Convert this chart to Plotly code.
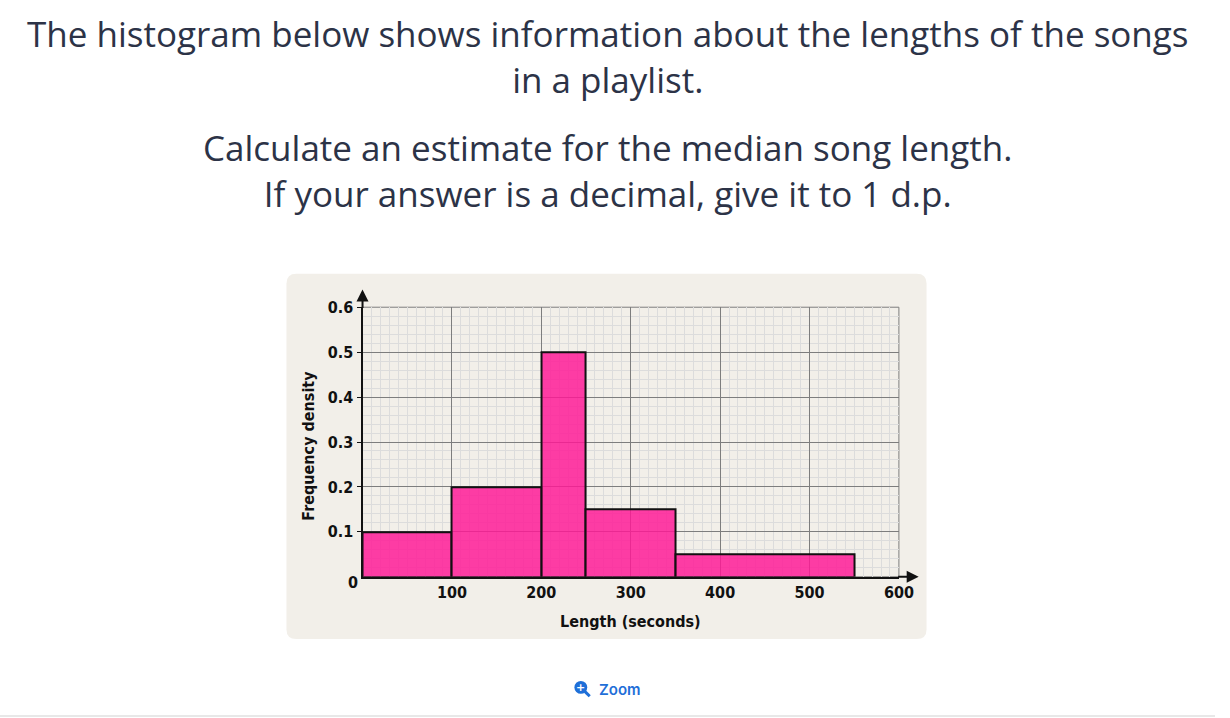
import plotly.graph_objects as go

# ---- data ----
bin_edges = [0, 100, 200, 250, 350, 550]
freq_density = [0.1, 0.2, 0.5, 0.15, 0.05]
x_tick_vals = [100, 200, 300, 400, 500, 600]
y_tick_vals = [0.1, 0.2, 0.3, 0.4, 0.5, 0.6]
title_lines = ["The histogram below shows information about the lengths of the songs",
               "in a playlist."]
question_lines = ["Calculate an estimate for the median song length.",
                  "If your answer is a decimal, give it to 1 d.p."]

W, H = 1230, 718
def px(x): return x / W
def py(y): return 1 - y / H

centers = [(a + b) / 2 for a, b in zip(bin_edges[:-1], bin_edges[1:])]
widths = [b - a for a, b in zip(bin_edges[:-1], bin_edges[1:])]

fig = go.Figure()
fig.add_trace(go.Bar(
    x=centers, y=freq_density, width=widths,
    marker=dict(color="rgba(255,25,150,0.84)", line=dict(color="#111", width=2)),
    hoverinfo="skip", showlegend=False,
))

label_family = "DejaVu Sans Condensed, Liberation Sans Narrow, Roboto, sans-serif"
label_font = dict(family=label_family, size=16, color="#111", weight="bold")
text_color = "#2c3347"
main_font = "Open Sans, Lato, sans-serif"

fig.update_layout(
    width=W, height=H,
    margin=dict(l=0, r=0, t=0, b=0),
    paper_bgcolor="white", plot_bgcolor="white",
    bargap=0,
    xaxis=dict(domain=[px(367), px(910)], range=[0, 600],
               tickvals=x_tick_vals, ticks="", tickfont=label_font,
               showgrid=True, gridcolor="#7d7d7d", gridwidth=1,
               minor=dict(dtick=10, showgrid=True, gridcolor="#dcdcdc", gridwidth=1),
               showline=True, linecolor="#111", linewidth=2, zeroline=False,
               fixedrange=True),
    yaxis=dict(domain=[py(575), py(302)], range=[0, 0.6],
               tickvals=y_tick_vals, ticks="outside", ticklen=4, tickcolor="#111",
               tickfont=label_font, tickformat=".1f",
               showgrid=True, gridcolor="#7d7d7d", gridwidth=1,
               minor=dict(dtick=0.02, showgrid=True, gridcolor="#dcdcdc", gridwidth=1),
               showline=True, linecolor="#111", linewidth=2, zeroline=False,
               fixedrange=True),
)

# gray rounded panel
x0, x1, y0, y1, r = 290, 938, 268, 638, 10
rx, ry = r / W, r / H
X0, X1, Y0, Y1 = px(x0), px(x1), py(y1), py(y0)
path = (f"M{X0+rx},{Y0} L{X1-rx},{Y0} Q{X1},{Y0} {X1},{Y0+ry} "
        f"L{X1},{Y1-ry} Q{X1},{Y1} {X1-rx},{Y1} L{X0+rx},{Y1} Q{X0},{Y1} {X0},{Y1-ry} "
        f"L{X0},{Y0+ry} Q{X0},{Y0} {X0+rx},{Y0} Z")
fig.add_shape(type="path", path=path, xref="paper", yref="paper",
              fillcolor="#f2efe9", line=dict(width=0), layer="below")
# grid frame (top and right border of the grid)
fig.add_shape(type="rect", xref="x domain", yref="y domain", x0=0, x1=1, y0=0, y1=1,
              line=dict(color="#7d7d7d", width=1), layer="below")
# bottom separator line
fig.add_shape(type="line", xref="paper", yref="paper", x0=0, x1=1, y0=py(716), y1=py(716),
              line=dict(color="#e8e8e8", width=2))

annotations = []
annotations.append(dict(text="<br>".join(title_lines), x=0.5, y=1, xref="paper", yref="paper",
                        showarrow=False, xanchor="center", yanchor="top", borderpad=0,
                        font=dict(family=main_font, size=35, color=text_color)))
annotations.append(dict(text="<br>".join(question_lines), x=0.5, y=py(163.5), xref="paper",
                        yref="paper", showarrow=False, xanchor="center", yanchor="middle",
                        font=dict(family=main_font, size=35, color=text_color)))
# axis titles
annotations.append(dict(text="Length (seconds)", x=px(638), y=py(620), xref="paper", yref="paper",
                        showarrow=False, xanchor="center", yanchor="middle",
                        font=dict(label_font, size=16)))
annotations.append(dict(text="Frequency density", x=px(312), y=py(442), xref="paper", yref="paper",
                        showarrow=False, xanchor="center", yanchor="middle", textangle=-90,
                        font=dict(label_font, size=16)))
# origin label
annotations.append(dict(text="0", x=px(357), y=py(581), xref="paper", yref="paper",
                        showarrow=False, xanchor="center", yanchor="middle", font=label_font))
# axis arrows
annotations.append(dict(text="", x=px(367), y=py(284), xref="paper", yref="paper",
                        ax=0, ay=20, showarrow=True, arrowhead=2, arrowsize=1.2,
                        arrowwidth=2, arrowcolor="#111"))
annotations.append(dict(text="", x=px(930), y=py(575), xref="paper", yref="paper",
                        ax=-22, ay=0, showarrow=True, arrowhead=2, arrowsize=1.2,
                        arrowwidth=2, arrowcolor="#111"))
# Zoom link
annotations.append(dict(text="Zoom", x=px(604), y=py(689), xref="paper", yref="paper",
                        showarrow=False, xanchor="left", yanchor="middle",
                        font=dict(family="Inter, Open Sans, sans-serif", size=15,
                                  color="#1f6fd8", weight=600)))
annotations.append(dict(text="+", x=px(588), y=py(687), xref="paper", yref="paper",
                        showarrow=False, xanchor="center", yanchor="middle",
                        font=dict(family="DejaVu Sans", size=11, color="white", weight="bold")))
fig.update_layout(annotations=annotations)

fig.add_shape(type="line", xref="paper", yref="paper",
              x0=px(592), y0=py(691), x1=px(597), y1=py(696),
              line=dict(color="#1f6fd8", width=3))
fig.add_shape(type="circle", xref="paper", yref="paper",
              x0=px(581.5), y0=py(693.5), x1=px(594.5), y1=py(680.5),
              fillcolor="#1f6fd8", line=dict(width=0))

fig.write_html("out.html", config={"displayModeBar": False})
